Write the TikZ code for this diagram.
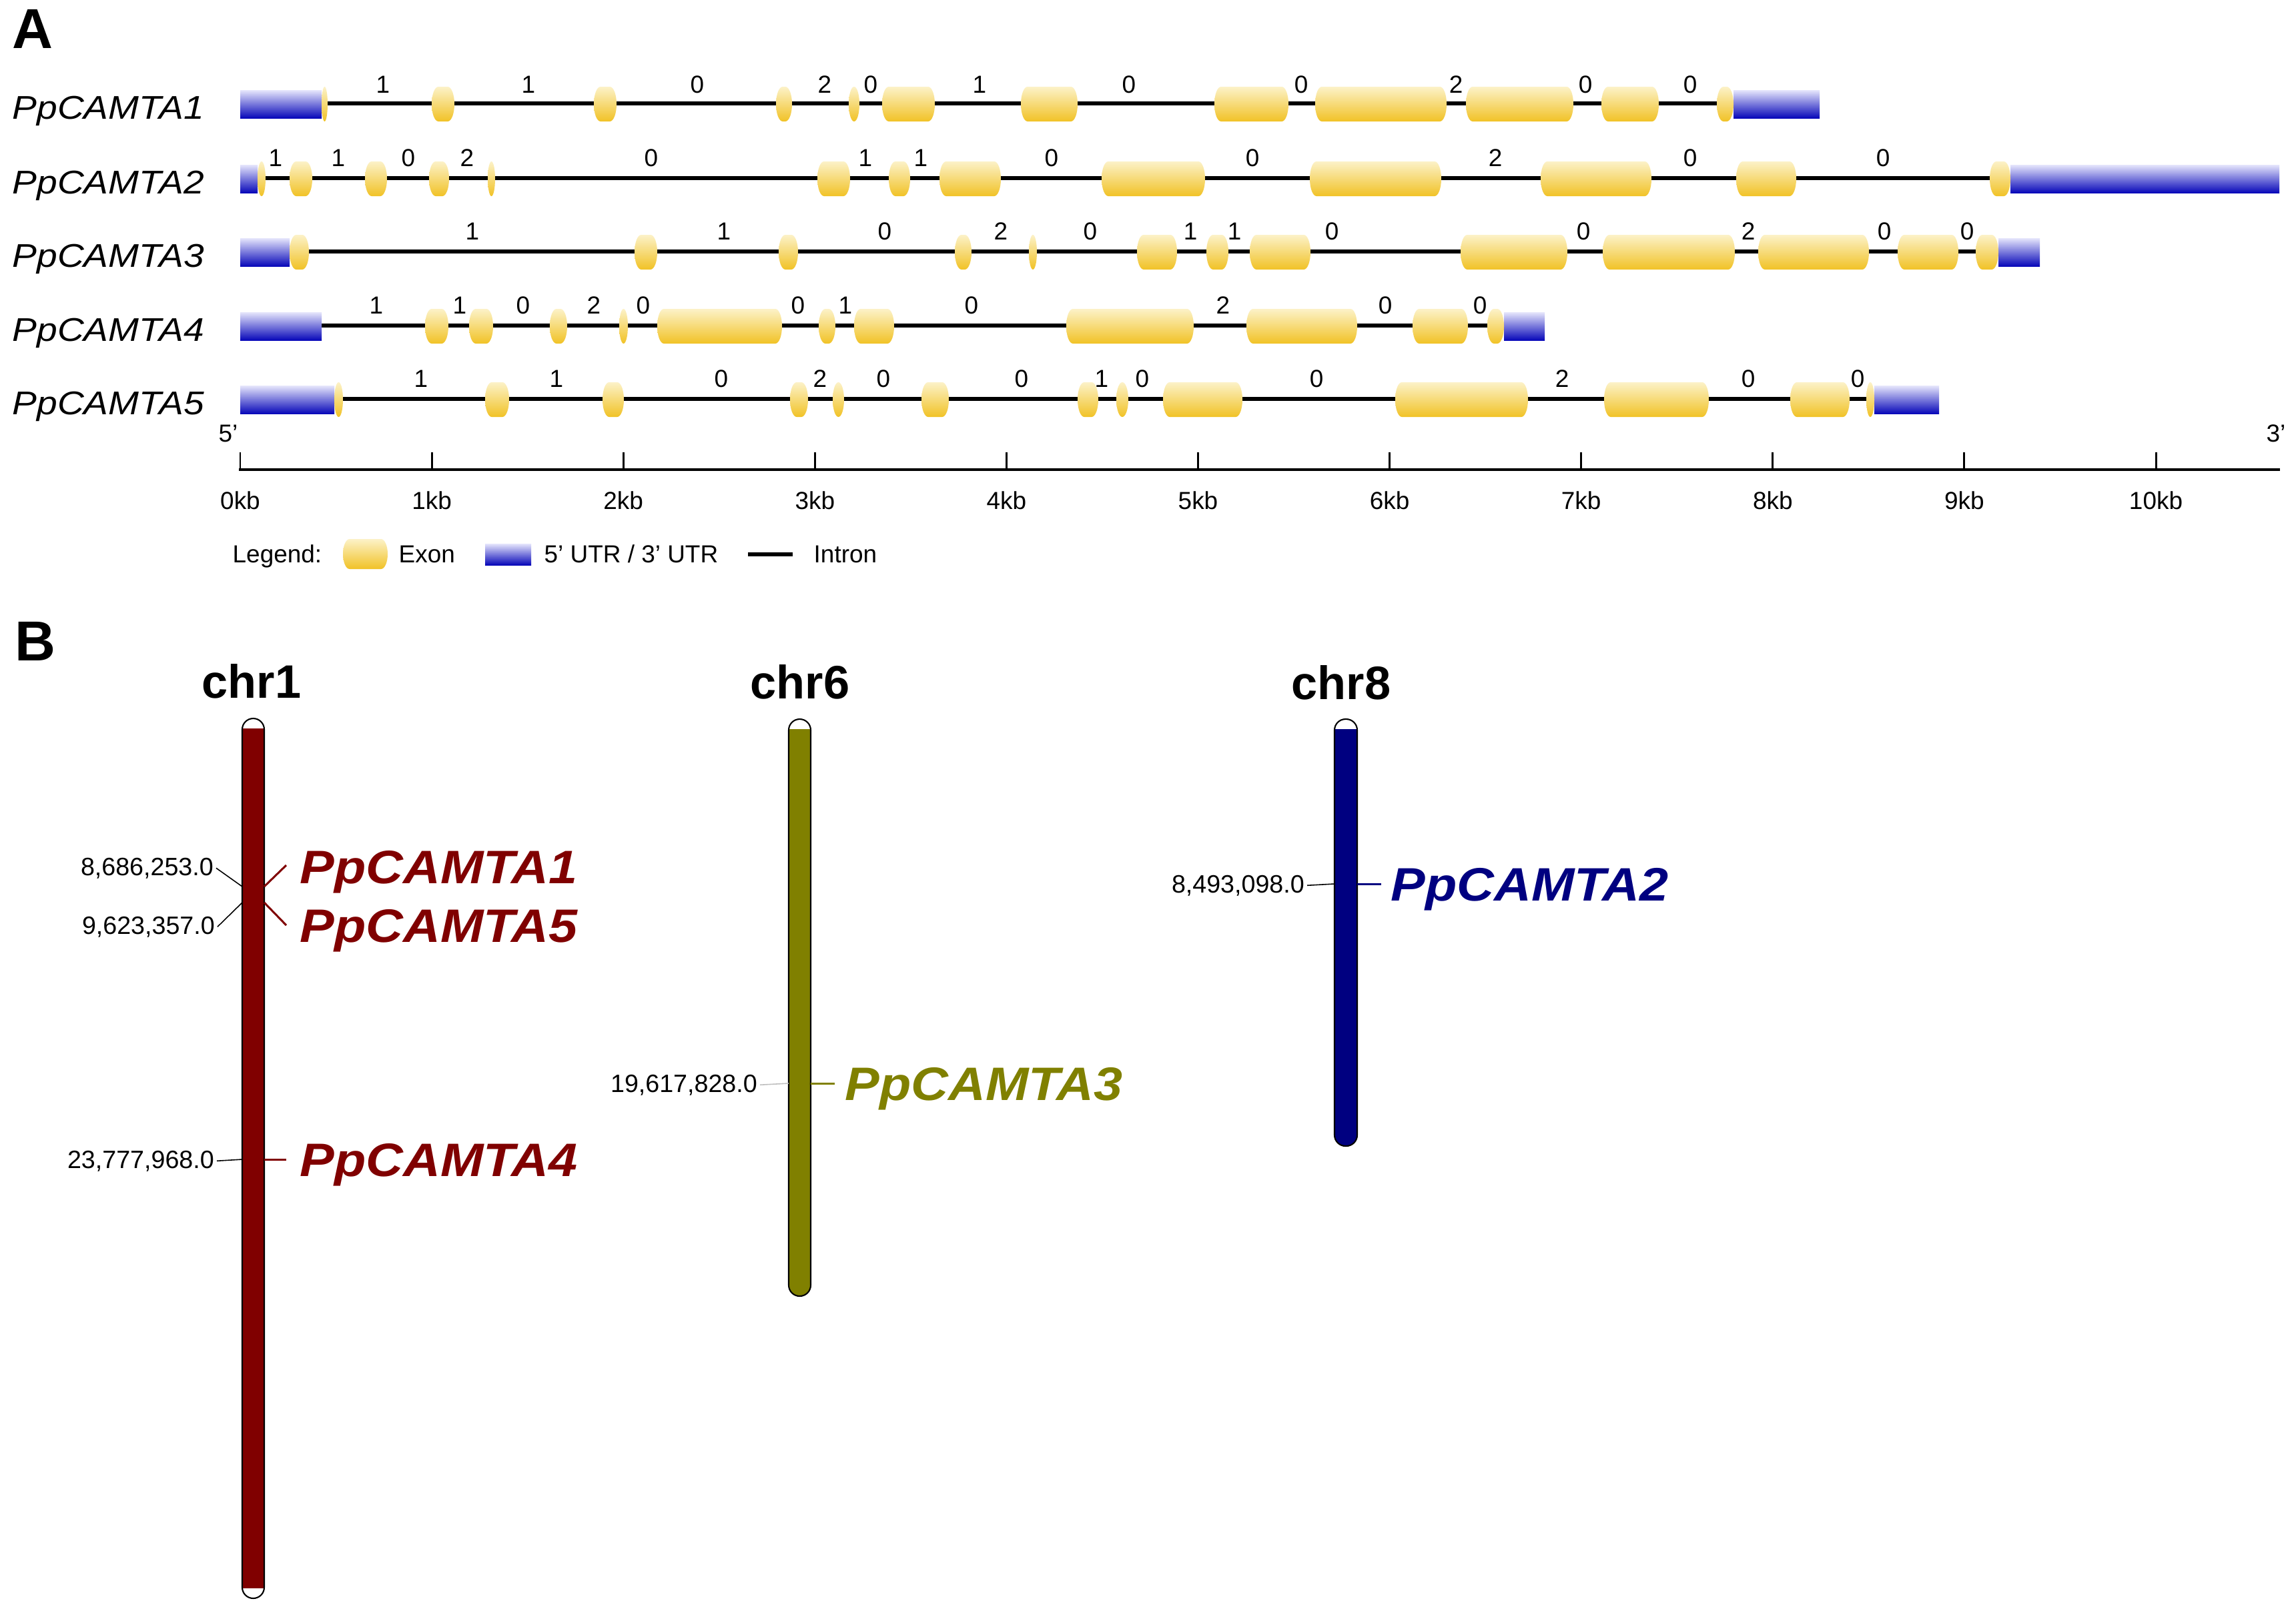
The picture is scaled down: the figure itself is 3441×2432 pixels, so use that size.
\documentclass[tikz,border=0pt]{standalone}
\usepackage{fontspec}
\setmainfont{Liberation Sans}
\definecolor{exT}{RGB}{252,242,200}
\definecolor{exB}{RGB}{241,194,38}
\definecolor{utrT}{RGB}{230,230,252}
\definecolor{utrM}{RGB}{110,110,228}
\definecolor{utrB}{RGB}{8,8,185}
\definecolor{chrR}{RGB}{128,0,0}
\definecolor{chrO}{RGB}{128,128,0}
\definecolor{chrN}{RGB}{0,0,128}
\newcommand\sx[2]{\scalebox{#1}[1]{#2}}
\newcommand\drawexon[4]{%
  \pgfmathsetmacro\xA{#1}\pgfmathsetmacro\xB{#2}%
  \pgfmathsetmacro\yT{#3}\pgfmathsetmacro\yBt{#4}%
  \pgfmathsetmacro\yM{(\yT+\yBt)/2}%
  \pgfmathsetmacro\yK{0.5523*(\yBt-\yT)/2}%
  \pgfmathsetmacro\xR{min((\xB-\xA)/2,10)}%
  \pgfmathsetmacro\xK{0.5523*\xR}%
  \shade[exonshade] (\xA+\xR,\yT) -- (\xB-\xR,\yT)
    .. controls (\xB-\xR+\xK,\yT) and (\xB,\yM-\yK) .. (\xB,\yM)
    .. controls (\xB,\yM+\yK) and (\xB-\xR+\xK,\yBt) .. (\xB-\xR,\yBt)
    -- (\xA+\xR,\yBt)
    .. controls (\xA+\xR-\xK,\yBt) and (\xA,\yM+\yK) .. (\xA,\yM)
    .. controls (\xA,\yM-\yK) and (\xA+\xR-\xK,\yT) .. (\xA+\xR,\yT) -- cycle;}
\newcommand\rowexons[2]{\foreach \a/\b in {#2}{\drawexon{\a}{\b}{#1-25}{#1+27}}}
\newcommand\utrbox[3]{\shade[utrshade] (#1,#3-20) rectangle (#2,#3+22);}
\begin{document}
\begin{tikzpicture}[x=0.01cm, y=-0.01cm,
  intron/.style={line width=1.5pt, black},
  exonshade/.style={top color=exT, bottom color=exB},
  utrshade/.style={top color=utrT, middle color=utrM, bottom color=utrB},
  small/.style={font=\fontsize{10.5}{12}\selectfont, inner sep=0pt},
  gname/.style={font=\fontsize{14}{16}\selectfont\itshape, inner sep=0pt, anchor=base west},
  panel/.style={font=\fontsize{24}{28}\selectfont\bfseries, inner sep=0pt, anchor=base west},
  chrlab/.style={font=\fontsize{20}{24}\selectfont\bfseries, inner sep=0pt, anchor=base},
  glab/.style={font=\fontsize{20}{24}\selectfont\bfseries\itshape, inner sep=0pt, anchor=base west},
  coordlab/.style={font=\fontsize{10.7}{13}\selectfont, inner sep=1pt, anchor=base east},
  chrout/.style={draw=black, line width=0.6pt},
  conn/.style={line width=0.85pt},
  lconn/.style={line width=0.45pt, black}
]
\fill[white] (0,0) rectangle (3441,2432);
\useasboundingbox (0,0) rectangle (3441,2432);

% ---------------- Panel A ----------------
\node[panel] (pA) at (18,72) {A};

% Row 1
\node[gname] (n1) at (18,178) {\sx{1.12}{PpCAMTA1}};
\draw[intron] (482,155) -- (2598,155);
\utrbox{360}{482}{155}
\utrbox{2598}{2727}{155}
\rowexons{155}{482/491, 647/681, 890/924, 1163/1187, 1272/1288, 1322/1401, 1530/1615, 1820/1931, 1971/2168, 2197/2358, 2400/2486, 2573/2598}
\foreach \p/\t [count=\i] in {574/1, 792/1, 1045/0, 1236/2, 1305/0, 1468/1, 1692/0, 1950/0, 2182/2, 2376/0, 2533/0}
  \node[small, anchor=base] (ra\i) at (\p,139) {\t};

% Row 2
\node[gname] (n2) at (18,290) {\sx{1.12}{PpCAMTA2}};
\draw[intron] (386,267) -- (3013,267);
\utrbox{360}{386}{267}
\utrbox{3013}{3416}{267}
\rowexons{267}{386/398, 434/468, 547/580, 643/673, 731/742, 1225/1274, 1332/1364, 1408/1500, 1651/1806, 1963/2160, 2309/2475, 2602/2692, 2982/3013}
\foreach \p/\t [count=\i] in {413/1, 507/1, 612/0, 700/2, 976/0, 1297/1, 1380/1, 1576/0, 1877/0, 2241/2, 2533/0, 2822/0}
  \node[small, anchor=base] (rb\i) at (\p,249) {\t};

% Row 3
\node[gname] (n3) at (18,400) {\sx{1.12}{PpCAMTA3}};
\draw[intron] (434,377) -- (2995,377);
\utrbox{360}{434}{377}
\utrbox{2995}{3057}{377}
\rowexons{377}{434/463, 951/985, 1167/1196, 1431/1456, 1542/1554, 1704/1764, 1808/1841, 1873/1964, 2189/2349, 2402/2600, 2635/2801, 2844/2935, 2961/2995}
\foreach \p/\t [count=\i] in {708/1, 1085/1, 1326/0, 1500/2, 1634/0, 1784/1, 1850/1, 1996/0, 2373/0, 2620/2, 2824/0, 2948/0}
  \node[small, anchor=base] (rc\i) at (\p,359) {\t};

% Row 4
\node[gname] (n4) at (18,511) {\sx{1.12}{PpCAMTA4}};
\draw[intron] (482,488) -- (2254,488);
\utrbox{360}{482}{488}
\utrbox{2254}{2315}{488}
\rowexons{488}{637/672, 703/739, 824/850, 928/941, 985/1172, 1227/1252, 1280/1340, 1598/1789, 1868/2034, 2117/2200, 2229/2254}
\foreach \p/\t [count=\i] in {564/1, 689/1, 784/0, 890/2, 964/0, 1196/0, 1267/1, 1456/0, 1833/2, 2076/0, 2218/0}
  \node[small, anchor=base] (rd\i) at (\p,470) {\t};

% Row 5
\node[gname] (n5) at (18,621) {\sx{1.12}{PpCAMTA5}};
\draw[intron] (501,598) -- (2809,598);
\utrbox{360}{501}{598}
\utrbox{2809}{2906}{598}
\rowexons{598}{501/514, 727/763, 903/935, 1184/1211, 1248/1265, 1381/1422, 1615/1646, 1673/1691, 1743/1862, 2091/2290, 2404/2561, 2683/2772, 2797/2809}
\foreach \p/\t [count=\i] in {631/1, 834/1, 1081/0, 1229/2, 1324/0, 1531/0, 1651/1, 1712/0, 1973/0, 2341/2, 2620/0, 2784/0}
  \node[small, anchor=base] (re\i) at (\p,580) {\t};

% Scale
\node[small, anchor=base] (p5) at (342,662) {5'};
\node[small, anchor=base] (p3) at (3411,662) {3'};
\draw[line width=1.4pt] (358,704) -- (3417,704);
\foreach \k in {0,...,10} {
  \draw[line width=0.85pt] (360+287.1*\k,678) -- (360+287.1*\k,704);
  \node[small, anchor=base] (tk\k) at (360+287.1*\k,763) {\k kb};
}

% Legend
\node[small, anchor=base west] (lg) at (348,843) {Legend:};
\drawexon{514}{581}{808}{853}
\node[small, anchor=base west] (lgex) at (597,843) {Exon};
\shade[utrshade] (727,815) rectangle (796,847);
\node[small, anchor=base west] (lgutr) at (815,843) {5' UTR / 3' UTR};
\draw[intron] (1121,831) -- (1188,831);
\node[small, anchor=base west] (lgin) at (1219,843) {Intron};

% ---------------- Panel B ----------------
\node[panel] (pB) at (22,990) {B};

\node[chrlab] (c1lab) at (377,1046) {chr1};
\node[chrlab] (c6lab) at (1199,1047) {chr6};
\node[chrlab] (c8lab) at (2010,1048) {chr8};

% chr1
\fill[chrR, rounded corners=0.165cm] (363,1077) rectangle (396,2396);
\begin{scope}
  \clip[rounded corners=0.165cm] (363,1077) rectangle (396,2396);
  \fill[white] (355,1070) rectangle (404,1092);
  \fill[white] (355,2381) rectangle (404,2405);
\end{scope}
\draw[chrout, rounded corners=0.165cm] (363,1077) rectangle (396,2396);

% chr6
\fill[chrO, rounded corners=0.165cm] (1182,1078) rectangle (1215,1943);
\begin{scope}
  \clip[rounded corners=0.165cm] (1182,1078) rectangle (1215,1943);
  \fill[white] (1175,1070) rectangle (1222,1093);
\end{scope}
\draw[chrout, rounded corners=0.165cm] (1182,1078) rectangle (1215,1943);

% chr8
\fill[chrN, rounded corners=0.165cm] (2000,1078) rectangle (2034,1718);
\begin{scope}
  \clip[rounded corners=0.165cm] (2000,1078) rectangle (2034,1718);
  \fill[white] (1990,1070) rectangle (2044,1093);
\end{scope}
\draw[chrout, rounded corners=0.165cm] (2000,1078) rectangle (2034,1718);

% chr1 genes
\coordinate (b1L) at (363,1329);
\coordinate (b5L) at (363,1353);
\coordinate (b4L) at (363,1738);
\coordinate (b1R) at (396,1329);
\coordinate (b5R) at (396,1353);
\coordinate (b4R) at (396,1738);
\coordinate (e1) at (429,1297);
\coordinate (e5) at (429,1387);
\coordinate (e4) at (429,1738);
\node[coordlab] (k1) at (324,1312) {8,686,253.0};
\node[coordlab] (k5) at (326,1400) {9,623,357.0};
\node[coordlab] (k4) at (325,1751) {23,777,968.0};
\draw[lconn] (k1.east) -- (b1L);
\draw[lconn] (k5.east) -- (b5L);
\draw[lconn] (k4.east) -- (b4L);
\draw[conn, chrR] (b1R) -- (e1);
\draw[conn, chrR] (b5R) -- (e5);
\draw[conn, chrR] (b4R) -- (e4);
\node[glab, text=chrR] (g1) at (449,1324) {\sx{1.1}{PpCAMTA1}};
\node[glab, text=chrR] (g5) at (449,1412) {\sx{1.1}{PpCAMTA5}};
\node[glab, text=chrR] (g4) at (449,1763) {\sx{1.1}{PpCAMTA4}};

% chr6 gene
\coordinate (b3L) at (1182,1624);
\coordinate (b3R) at (1215,1624);
\coordinate (e3) at (1251,1624);
\node[coordlab] (k3) at (1139,1637) {19,617,828.0};
\draw[line width=0.45pt, black!25] (k3.east) -- (b3L);
\draw[conn, chrO] (b3R) -- (e3);
\node[glab, text=chrO] (g3) at (1266,1649) {\sx{1.1}{PpCAMTA3}};

% chr8 gene
\coordinate (b2L) at (2000,1325);
\coordinate (b2R) at (2034,1325);
\coordinate (e2) at (2070,1325);
\node[coordlab] (k2) at (1959,1338) {8,493,098.0};
\draw[lconn] (k2.east) -- (b2L);
\draw[conn, chrN] (b2R) -- (e2);
\node[glab, text=chrN] (g2) at (2084,1350) {\sx{1.1}{PpCAMTA2}};
\end{tikzpicture}
\end{document}
